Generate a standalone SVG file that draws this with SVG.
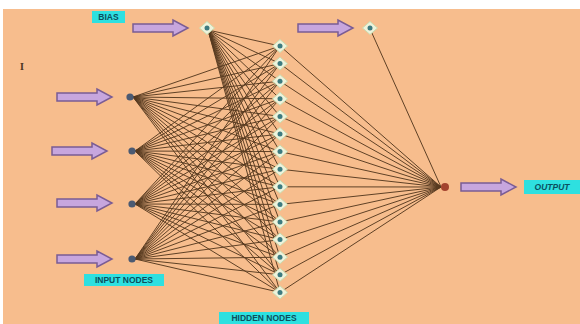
<svg xmlns="http://www.w3.org/2000/svg" xmlns:xlink="http://www.w3.org/1999/xlink" width="580" height="324" viewBox="0 0 580 324">
  <style>
    .wire { fill: none; stroke: #563a20; stroke-width: 0.95; }
    .tag { fill: #2ee0e0; }
    .tagtxt { font-family: "Liberation Sans", Arial, sans-serif; font-weight: bold; font-size: 8.5px; fill: #0b4f5e; }
    .arrow { fill: #c7a6de; stroke: #7a5c94; stroke-width: 1.5; }
  </style>
  <defs>
    <path id="arrow" class="arrow" d="M0,-4 H40 V-8 L55,0 L40,8 V4 H0 Z"/>
    <g id="diamond">
      <polygon points="-7.5,0 0,-6.5 7.5,0 0,6.5" fill="#eef3dc" stroke="#c9dcb0" stroke-width="1"/>
      <circle r="2.5" fill="#3d7b80"/>
    </g>
  </defs>

  <!-- canvas -->
  <rect width="580" height="324" fill="#ffffff"/>
  <rect x="3" y="9" width="577" height="315" fill="#f7bd8d"/>

  <!-- connectors -->
  <g id="connectors" class="wire">
    <!-- bias -> hidden -->
    <path d="M208 30L280 46M208 30L280 63.6M208 30L280 81.2M208 30L280 98.8M208 30L280 116.4M208 30L280 134M208 30L280 151.6M208 30L280 169.2M208 30L280 186.8M208 30L280 204.4M208 30L280 222M208 30L280 239.6M208 30L280 257.2M208 30L280 274.8M208 30L280 292.4"/>
    <!-- input 1 -> hidden -->
    <path d="M133 97L280 46M133 97L280 63.6M133 97L280 81.2M133 97L280 98.8M133 97L280 116.4M133 97L280 134M133 97L280 151.6M133 97L280 169.2M133 97L280 186.8M133 97L280 204.4M133 97L280 222M133 97L280 239.6M133 97L280 257.2M133 97L280 274.8M133 97L280 292.4"/>
    <!-- input 2 -> hidden -->
    <path d="M135 151L280 46M135 151L280 63.6M135 151L280 81.2M135 151L280 98.8M135 151L280 116.4M135 151L280 134M135 151L280 151.6M135 151L280 169.2M135 151L280 186.8M135 151L280 204.4M135 151L280 222M135 151L280 239.6M135 151L280 257.2M135 151L280 274.8M135 151L280 292.4"/>
    <!-- input 3 -> hidden -->
    <path d="M135 204L280 46M135 204L280 63.6M135 204L280 81.2M135 204L280 98.8M135 204L280 116.4M135 204L280 134M135 204L280 151.6M135 204L280 169.2M135 204L280 186.8M135 204L280 204.4M135 204L280 222M135 204L280 239.6M135 204L280 257.2M135 204L280 274.8M135 204L280 292.4"/>
    <!-- input 4 -> hidden -->
    <path d="M135 259L280 46M135 259L280 63.6M135 259L280 81.2M135 259L280 98.8M135 259L280 116.4M135 259L280 134M135 259L280 151.6M135 259L280 169.2M135 259L280 186.8M135 259L280 204.4M135 259L280 222M135 259L280 239.6M135 259L280 257.2M135 259L280 274.8M135 259L280 292.4"/>
    <!-- hidden -> output -->
    <path d="M280 46L441 187M280 63.6L441 187M280 81.2L441 187M280 98.8L441 187M280 116.4L441 187M280 134L441 187M280 151.6L441 187M280 169.2L441 187M280 186.8L441 187M280 204.4L441 187M280 222L441 187M280 239.6L441 187M280 257.2L441 187M280 274.8L441 187M280 292.4L441 187"/>
    <!-- output bias -> output -->
    <path d="M371 31L441 187"/>
  </g>

  <!-- arrows feeding the nodes -->
  <g id="input-arrows">
    <use xlink:href="#arrow" x="57" y="97"/>
    <use xlink:href="#arrow" x="52" y="151"/>
    <use xlink:href="#arrow" x="57" y="203"/>
    <use xlink:href="#arrow" x="57" y="259"/>
    <use xlink:href="#arrow" x="133" y="28"/>
    <use xlink:href="#arrow" x="298" y="28"/>
    <use xlink:href="#arrow" x="461" y="187"/>
  </g>

  <!-- input nodes -->
  <g id="input-1"><circle cx="130" cy="97" r="3.6" fill="#4b5a72"/></g>
  <g id="input-2"><circle cx="132" cy="151" r="3.6" fill="#4b5a72"/></g>
  <g id="input-3"><circle cx="132" cy="204" r="3.6" fill="#4b5a72"/></g>
  <g id="input-4"><circle cx="132" cy="259" r="3.6" fill="#4b5a72"/></g>

  <!-- bias nodes -->
  <g id="bias-hidden"><use xlink:href="#diamond" x="207" y="28"/></g>
  <g id="bias-output"><use xlink:href="#diamond" x="370" y="28"/></g>

  <!-- hidden layer -->
  <g id="hidden-nodes">
    <g id="hidden-1"><use xlink:href="#diamond" x="280" y="46"/></g>
    <g id="hidden-2"><use xlink:href="#diamond" x="280" y="63.6"/></g>
    <g id="hidden-3"><use xlink:href="#diamond" x="280" y="81.2"/></g>
    <g id="hidden-4"><use xlink:href="#diamond" x="280" y="98.8"/></g>
    <g id="hidden-5"><use xlink:href="#diamond" x="280" y="116.4"/></g>
    <g id="hidden-6"><use xlink:href="#diamond" x="280" y="134"/></g>
    <g id="hidden-7"><use xlink:href="#diamond" x="280" y="151.6"/></g>
    <g id="hidden-8"><use xlink:href="#diamond" x="280" y="169.2"/></g>
    <g id="hidden-9"><use xlink:href="#diamond" x="280" y="186.8"/></g>
    <g id="hidden-10"><use xlink:href="#diamond" x="280" y="204.4"/></g>
    <g id="hidden-11"><use xlink:href="#diamond" x="280" y="222"/></g>
    <g id="hidden-12"><use xlink:href="#diamond" x="280" y="239.6"/></g>
    <g id="hidden-13"><use xlink:href="#diamond" x="280" y="257.2"/></g>
    <g id="hidden-14"><use xlink:href="#diamond" x="280" y="274.8"/></g>
    <g id="hidden-15"><use xlink:href="#diamond" x="280" y="292.4"/></g>
  </g>

  <!-- output node -->
  <g id="output"><circle cx="445" cy="187" r="4" fill="#a3432e"/></g>

  <!-- labels -->
  <g id="labels">
    <rect class="tag" x="92" y="11" width="33" height="12"/>
    <text class="tagtxt" x="108.5" y="20.2" text-anchor="middle">BIAS</text>
    <rect class="tag" x="84" y="274" width="80" height="12"/>
    <text class="tagtxt" x="124" y="283.2" text-anchor="middle">INPUT NODES</text>
    <rect class="tag" x="219" y="312" width="90" height="12"/>
    <text class="tagtxt" x="264" y="321.2" text-anchor="middle">HIDDEN NODES</text>
    <rect class="tag" x="524" y="180" width="56" height="14"/>
    <text class="tagtxt" x="552" y="190.2" text-anchor="middle" font-style="italic">OUTPUT</text>
    <text x="22" y="70" font-family="Liberation Serif, serif" font-weight="bold" font-size="10" fill="#4a3320" text-anchor="middle">I</text>
  </g>
</svg>
